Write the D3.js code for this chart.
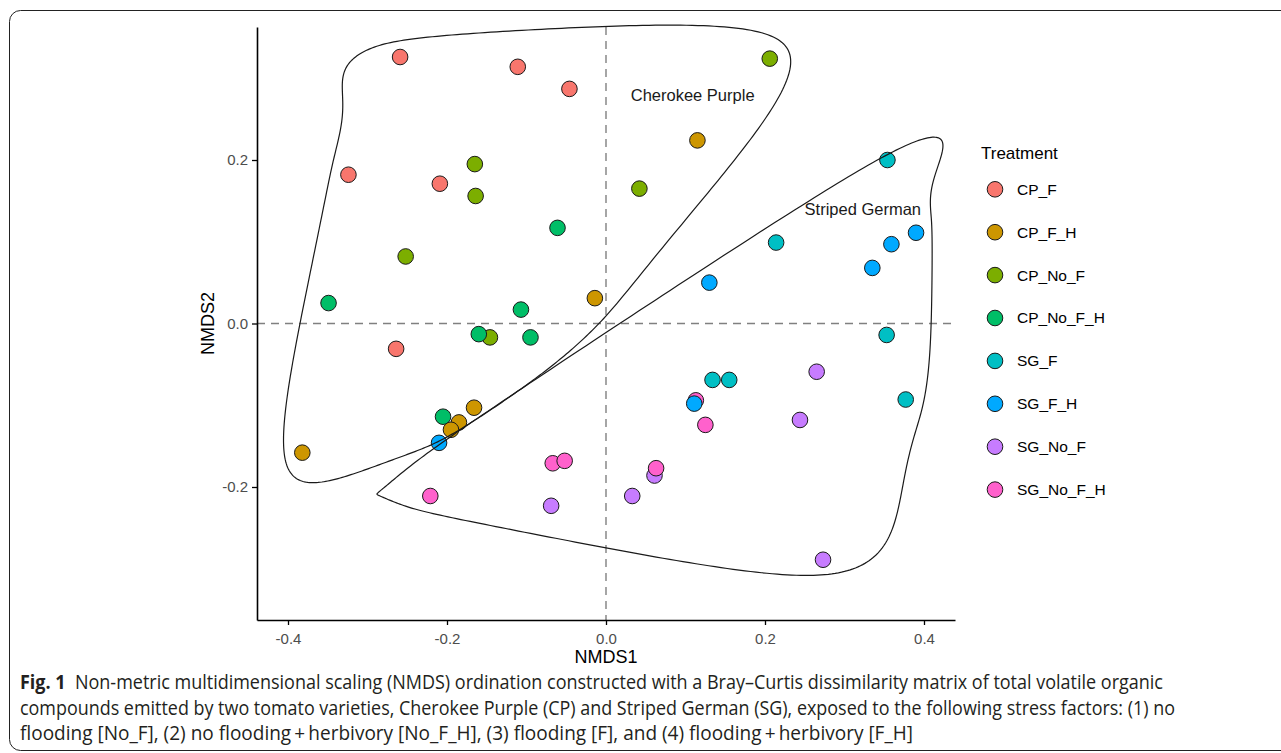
<!DOCTYPE html>
<html>
<head>
<meta charset="utf-8">
<script src="https://cdn.jsdelivr.net/npm/d3@7"></script>
<style>
  body { margin: 0; background: #fff; }
  svg { display: block; }
</style>
</head>
<body>
<svg id="chart" width="1281" height="753"></svg>
<script>
// legend order and ggplot default hue palette
const treatments = ["CP_F", "CP_F_H", "CP_No_F", "CP_No_F_H", "SG_F", "SG_F_H", "SG_No_F", "SG_No_F_H"];
const colors = ["#F8766D", "#CD9600", "#7CAE00", "#00BE67", "#00BFC4", "#00A9FF", "#C77CFF", "#FF61CC"];

// NMDS scores [NMDS1, NMDS2]
const cpF = [[-0.259, 0.326], [-0.111, 0.314], [-0.046, 0.287], [-0.324, 0.182], [-0.209, 0.171], [-0.264, -0.031]];
const cpFH = [[-0.014, 0.031], [0.115, 0.224], [-0.166, -0.103], [-0.185, -0.121], [-0.195, -0.130], [-0.382, -0.158]];
const cpNoF = [[-0.165, 0.195], [-0.164, 0.156], [-0.252, 0.082], [0.206, 0.324], [0.042, 0.165], [-0.146, -0.017]];
const cpNoFH = [[-0.061, 0.117], [-0.349, 0.025], [-0.107, 0.017], [-0.160, -0.013], [-0.095, -0.017], [-0.205, -0.114]];
const sgF = [[0.354, 0.200], [0.214, 0.099], [0.353, -0.014], [0.134, -0.069], [0.155, -0.069], [0.377, -0.093]];
const sgFH = [[0.390, 0.111], [0.359, 0.097], [0.335, 0.068], [0.130, 0.050], [-0.210, -0.146], [0.111, -0.098]];
const sgNoF = [[0.265, -0.059], [0.244, -0.118], [0.061, -0.186], [0.033, -0.211], [0.273, -0.289], [-0.069, -0.223]];
const sgNoFH = [[0.113, -0.094], [0.125, -0.124], [0.063, -0.177], [-0.067, -0.171], [-0.052, -0.168], [-0.221, -0.211]];

// plotting order of the rows (later rows sit on top)
const drawOrder = ["CP_F", "CP_No_F", "CP_No_F_H", "CP_F_H", "SG_F", "SG_No_F", "SG_No_F_H", "SG_F_H"];

const varieties = ["CP", "SG"];
const varietyLabels = ["Cherokee Purple", "Striped German"];
const varietyLabelPos = [[0.109, 0.2795], [0.323, 0.140]];

const xTicks = [-0.4, -0.2, 0.0, 0.2, 0.4];
const yTicks = [-0.2, 0.0, 0.2];

const captionLines = [
  ["Fig. 1", "  Non-metric multidimensional scaling (NMDS) ordination constructed with a Bray\u2013Curtis dissimilarity matrix of total volatile organic"],
  ["", "compounds emitted by two tomato varieties, Cherokee Purple (CP) and Striped German (SG), exposed to the following stress factors: (1) no"],
  ["", "flooding [No_F], (2) no flooding\u2009+\u2009herbivory [No_F_H], (3) flooding [F], and (4) flooding\u2009+\u2009herbivory [F_H]"]
];
const captionEnds = [1163, 1175, 913];

const scores = { CP_F: cpF, CP_F_H: cpFH, CP_No_F: cpNoF, CP_No_F_H: cpNoFH, SG_F: sgF, SG_F_H: sgFH, SG_No_F: sgNoF, SG_No_F_H: sgNoFH };

var rows = [];
drawOrder.forEach(function (t) {
  scores[t].forEach(function (d) {
    rows.push({ treatment: t, variety: t.split("_")[0], x: d[0], y: d[1] });
  });
});

var svg = d3.select("#chart");
var font = "'Liberation Sans', Arial, sans-serif";

// figure frame
svg.append("rect")
  .attr("x", 9.5).attr("y", 10.5)
  .attr("width", 1320).attr("height", 740)
  .attr("rx", 11)
  .attr("fill", "none")
  .attr("stroke", "#222")
  .attr("stroke-width", 1);

var panel = { left: 257, right: 955, top: 27, bottom: 620 };

var x = d3.scaleLinear().domain([-0.439, 0.439]).range([panel.left, panel.right]);
var y = d3.scaleLinear().domain([-0.3627, 0.3627]).range([panel.bottom, panel.top]);
var color = d3.scaleOrdinal().domain(treatments).range(colors);
var fmt = function (d) { return d.toFixed(1); };

// zero reference lines
var g = svg.append("g");
g.append("line")
  .attr("x1", panel.left).attr("x2", panel.right)
  .attr("y1", y(0)).attr("y2", y(0))
  .attr("stroke", "#808080").attr("stroke-width", 1.4)
  .attr("stroke-dasharray", "8,6");
g.append("line")
  .attr("x1", x(0)).attr("x2", x(0))
  .attr("y1", panel.top).attr("y2", panel.bottom)
  .attr("stroke", "#808080").attr("stroke-width", 1.4)
  .attr("stroke-dasharray", "8,6");

// points
g.selectAll("circle.pt")
  .data(rows)
  .enter()
  .append("circle")
  .attr("class", "pt")
  .attr("cx", function (d) { return x(d.x); })
  .attr("cy", function (d) { return y(d.y); })
  .attr("r", 7.8)
  .attr("fill", function (d) { return color(d.treatment); })
  .attr("stroke", "#1a1a1a")
  .attr("stroke-width", 1);

// encircle: convex hull, pushed out from the group mean, closed x-spline
function fBlend(num, den) {
  var p = 2 * den * den, u = num / den;
  return u * u * u * (10 - p + (2 * p - 15) * u + (6 - p) * u * u);
}
function gBlend(u, q) {
  return u * (q + u * (2 * q + u * (8 - 12 * q + u * (14 * q - 11 + u * (4 - 5 * q)))));
}
function hBlend(u, q) {
  return u * (q + u * (2 * q + u * u * (-2 * q - u * q)));
}
function xspline(pts, s, steps) {
  var n = pts.length, out = [];
  for (var k = 0; k < n; k++) {
    var p0 = pts[(k - 1 + n) % n], p1 = pts[k], p2 = pts[(k + 1) % n], p3 = pts[(k + 2) % n];
    for (var i = 0; i < steps; i++) {
      var t = i / steps, a0, a1, a2, a3;
      if (s >= 0) {
        a0 = t < s ? fBlend(t - s, -1 - s) : 0;
        a2 = fBlend(t + s, 1 + s);
        a1 = fBlend(t - 1 - s, -1 - s);
        a3 = t > 1 - s ? fBlend(t - 1 + s, 1 + s) : 0;
      } else {
        a0 = hBlend(-t, -s);
        a2 = gBlend(t, -s);
        a1 = gBlend(1 - t, -s);
        a3 = hBlend(t - 1, -s);
      }
      var w = a0 + a1 + a2 + a3;
      out.push([
        (a0 * p0[0] + a1 * p1[0] + a2 * p2[0] + a3 * p3[0]) / w,
        (a0 * p0[1] + a1 * p1[1] + a2 * p2[1] + a3 * p3[1]) / w
      ]);
    }
  }
  return out;
}

var expand = 0.022, shape = -0.5;
var ex = expand * (panel.right - panel.left), ey = expand * (panel.bottom - panel.top);

varieties.forEach(function (v) {
  var pts = rows.filter(function (d) { return d.variety == v; })
    .map(function (d) { return [x(d.x), y(d.y)]; });
  var mx = d3.mean(pts, function (p) { return p[0]; });
  var my = d3.mean(pts, function (p) { return p[1]; });
  var hull = d3.polygonHull(pts).map(function (p) {
    return [p[0] + Math.sign(p[0] - mx) * ex, p[1] + Math.sign(p[1] - my) * ey];
  });
  g.append("path")
    .attr("d", d3.line().curve(d3.curveLinearClosed)(xspline(hull, shape, 80)))
    .attr("fill", "none")
    .attr("stroke", "#1a1a1a")
    .attr("stroke-width", 1.2);
});

// variety labels
g.selectAll("text.variety")
  .data(varietyLabels)
  .enter()
  .append("text")
  .attr("class", "variety")
  .attr("x", function (d, i) { return x(varietyLabelPos[i][0]); })
  .attr("y", function (d, i) { return y(varietyLabelPos[i][1]); })
  .attr("dy", "0.35em")
  .attr("text-anchor", "middle")
  .attr("font-family", font)
  .attr("font-size", 16.5)
  .attr("fill", "#1a1a1a")
  .text(function (d) { return d; });

// axes
var xAxis = svg.append("g")
  .attr("transform", "translate(0," + panel.bottom + ")")
  .call(d3.axisBottom(x).tickValues(xTicks).tickFormat(fmt).tickSize(5).tickSizeOuter(0));
var yAxis = svg.append("g")
  .attr("transform", "translate(" + panel.left + ",0)")
  .call(d3.axisLeft(y).tickValues(yTicks).tickFormat(fmt).tickSize(5).tickSizeOuter(0));

[xAxis, yAxis].forEach(function (a) {
  a.select(".domain").attr("stroke", "#000").attr("stroke-width", 1.6);
  a.selectAll(".tick line").attr("stroke", "#000").attr("stroke-width", 1.3);
  a.selectAll(".tick text")
    .attr("font-family", font)
    .attr("font-size", 15)
    .attr("fill", "#4d4d4d");
});
xAxis.selectAll(".tick text").attr("dy", "1.05em");
yAxis.selectAll(".tick text").attr("x", -9);

svg.append("text")
  .attr("x", (panel.left + panel.right) / 2)
  .attr("y", 663)
  .attr("text-anchor", "middle")
  .attr("font-family", font)
  .attr("font-size", 18)
  .attr("fill", "#000")
  .text("NMDS1");

svg.append("text")
  .attr("transform", "translate(214," + (panel.top + panel.bottom) / 2 + ") rotate(-90)")
  .attr("text-anchor", "middle")
  .attr("font-family", font)
  .attr("font-size", 18)
  .attr("fill", "#000")
  .text("NMDS2");

// legend
var legend = svg.append("g").attr("transform", "translate(981,0)");
legend.append("text")
  .attr("x", 0).attr("y", 159)
  .attr("font-family", font)
  .attr("font-size", 17)
  .attr("fill", "#000")
  .text("Treatment");

var item = legend.selectAll("g.item")
  .data(treatments)
  .enter()
  .append("g")
  .attr("class", "item")
  .attr("transform", function (d, i) { return "translate(0," + (189.3 + i * 42.9) + ")"; });
item.append("circle")
  .attr("cx", 14).attr("cy", 0).attr("r", 7.8)
  .attr("fill", function (d) { return color(d); })
  .attr("stroke", "#1a1a1a")
  .attr("stroke-width", 1);
item.append("text")
  .attr("x", 36).attr("y", 0).attr("dy", "0.35em")
  .attr("font-family", font)
  .attr("font-size", 15.5)
  .attr("fill", "#000")
  .text(function (d) { return d; });

// caption
var cap = svg.append("g");
captionLines.forEach(function (line, i) {
  var t = cap.append("text")
    .attr("x", 20)
    .attr("y", 689 + i * 25.5)
    .attr("font-family", "'Open Sans', 'Noto Sans', sans-serif")
    .attr("font-size", 19.5)
    .attr("fill", "#231f20")
    .attr("textLength", captionEnds[i] - 20)
    .attr("lengthAdjust", "spacingAndGlyphs")
    .attr("xml:space", "preserve");
  if (line[0]) t.append("tspan").attr("font-weight", "bold").text(line[0]);
  t.append("tspan").text(line[1]);
});
</script>
</body>
</html>
